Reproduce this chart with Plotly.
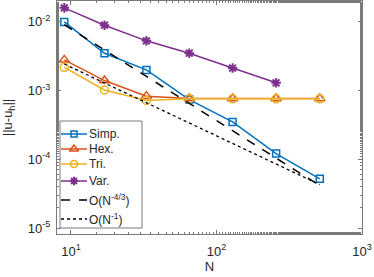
import numpy as np
import plotly.graph_objects as go

N = [9, 17, 33, 65, 129, 257, 513]
simp = [1.0e-2, 3.5e-3, 2.0e-3, 7.4e-4, 3.5e-4, 1.21e-4, 5.2e-5]
hexa = [2.8e-3, 1.4e-3, 8.3e-4, 7.65e-4, 7.65e-4, 7.65e-4, 7.65e-4]
tri = [2.18e-3, 1.02e-3, 7.2e-4, 7.6e-4, 7.6e-4, 7.6e-4, 7.6e-4]
N_var = [9, 17, 33, 65, 129, 257]
var = [1.6e-2, 8.95e-3, 5.3e-3, 3.5e-3, 2.13e-3, 1.3e-3]
ref43 = [9.1e-3, 3.9e-3, 1.61e-3, 6.5e-4, 2.61e-4, 1.045e-4, 4.14e-5]
ref1 = [2.44e-3, 1.29e-3, 6.65e-4, 3.38e-4, 1.70e-4, 8.5e-5, 4.28e-5]

names = ["Simp.", "Hex.", "Tri.", "Var.", "O(N<sup>-4/3</sup>)", "O(N<sup>-1</sup>)"]

xtick_vals = [10, 100, 1000]
xtick_text = ["10<sup>1</sup>", "10<sup>2</sup>", "10<sup>3</sup>"]
ytick_vals = [1e-5, 1e-4, 1e-3, 1e-2]
ytick_text = ["10<sup>-5</sup>", "10<sup>-4</sup>", "10<sup>-3</sup>", "10<sup>-2</sup>"]

FONT = "Liberation Sans, Arial, sans-serif"
TXT = "#262626"
AX = "#7a7a7a"

styles = [
    dict(color="#0072BD", symbol="square-open", size=7, dash="solid", lw=1.5),
    dict(color="#D95319", symbol="triangle-up-open", size=9, dash="solid", lw=1.5),
    dict(color="#EDB120", symbol="circle-open", size=8, dash="solid", lw=1.5),
    dict(color="#7E2F8E", symbol="asterisk-open", size=8, dash="solid", lw=1.5),
    dict(color="black", symbol=None, size=0, dash="dash", lw=1.5),
    dict(color="black", symbol=None, size=0, dash="dot", lw=1.3),
]
xs = [N, N, N, N_var, N, N]
ys = [simp, hexa, tri, var, ref43, ref1]

fig = go.Figure()
for nm, x, y, st in zip(names, xs, ys, styles):
    if st["symbol"]:
        fig.add_trace(go.Scatter(x=x, y=y, name=nm, mode="lines+markers", showlegend=False,
                                 line=dict(color=st["color"], width=st["lw"], dash=st["dash"]),
                                 marker=dict(symbol=st["symbol"], size=st["size"], color=st["color"],
                                             line=dict(width=2 if "asterisk" in st["symbol"] else 1.5,
                                                       color=st["color"]))))
    else:
        fig.add_trace(go.Scatter(x=x, y=y, name=nm, mode="lines", showlegend=False,
                                 line=dict(color=st["color"], width=st["lw"], dash=st["dash"])))

# ---- hand-built legend on a pixel-coordinate overlay axis ----
leg_rows = [134, 149, 164, 181, 200, 219]
leg_x0, leg_x1, leg_xm, leg_tx = 61, 87, 74, 88
fig.add_shape(type="rect", xref="x2", yref="y2", x0=60, x1=142, y0=121, y1=228,
              line=dict(color=AX, width=1), fillcolor="white", layer="below")
for nm, st, yy in zip(names, styles, leg_rows):
    fig.add_shape(type="line", xref="x2", yref="y2", x0=leg_x0, x1=leg_x1, y0=yy, y1=yy,
                  line=dict(color=st["color"], width=st["lw"], dash=st["dash"]), layer="above")
    if st["symbol"]:
        fig.add_trace(go.Scatter(x=[leg_xm], y=[yy], xaxis="x2", yaxis="y2", mode="markers",
                                 showlegend=False, hoverinfo="skip",
                                 marker=dict(symbol=st["symbol"], size=st["size"] - 1, color=st["color"],
                                             line=dict(width=2 if "asterisk" in st["symbol"] else 1.5,
                                                       color=st["color"]))))
    fig.add_annotation(xref="x2", yref="y2", x=leg_tx, y=yy, text=nm, showarrow=False,
                       xanchor="left", yanchor="middle", borderpad=0,
                       font=dict(family=FONT, size=12, color=TXT))

axis_common = dict(showline=True, linecolor=AX, linewidth=1, mirror="allticks",
                   ticks="inside", ticklen=4, tickcolor=AX, showgrid=False, zeroline=False,
                   automargin=False,
                   tickfont=dict(family=FONT, size=13, color=TXT),
                   minor=dict(ticks="inside", ticklen=2, tickcolor=AX, showgrid=False))

fig.update_xaxes(type="log", range=[np.log10(8.02), 3], tickvals=xtick_vals, ticktext=xtick_text,
                 ticklabelstandoff=5,
                 title=dict(text="N", font=dict(family=FONT, size=13, color=TXT), standoff=3),
                 **axis_common)
fig.update_yaxes(type="log", range=[-5.087, -1.696], tickvals=ytick_vals, ticktext=ytick_text,
                 ticklabelstandoff=3,
                 title=dict(text="||u-u<sub>h</sub>||", font=dict(family=FONT, size=13, color=TXT), standoff=14),
                 **axis_common)

fig.update_layout(width=374, height=277, margin=dict(l=57, r=12, t=1, b=43),
                  paper_bgcolor="white", plot_bgcolor="white",
                  font=dict(family=FONT, size=13, color=TXT),
                  showlegend=False,
                  xaxis2=dict(overlaying="x", anchor="y2", range=[57, 362], visible=False,
                              showgrid=False, zeroline=False, fixedrange=True),
                  yaxis2=dict(overlaying="y", anchor="x2", range=[234, 1], visible=False,
                              showgrid=False, zeroline=False, fixedrange=True))

fig.write_html("out.html", config={"displayModeBar": False},
               post_script="document.body.style.margin='0';document.body.style.padding='0';")
